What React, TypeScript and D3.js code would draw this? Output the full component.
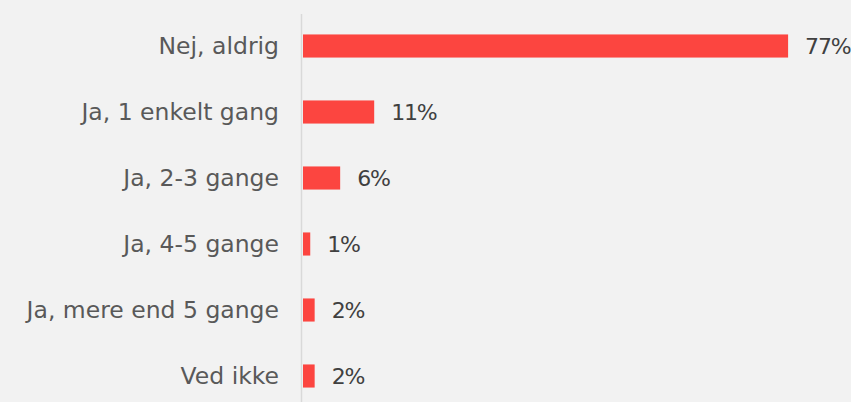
import React, { useEffect, useRef } from "react";
import * as d3 from "d3";

const categories = [
  "Nej, aldrig",
  "Ja, 1 enkelt gang",
  "Ja, 2-3 gange",
  "Ja, 4-5 gange",
  "Ja, mere end 5 gange",
  "Ved ikke",
];
const values = [77, 11.3, 5.9, 1.15, 1.85, 1.85];

const W = 851;
const H = 402;

export default function App() {
  const ref = useRef<SVGSVGElement>(null);
  useEffect(() => {
    document.body.style.margin = "0";
    const svg = d3.select(ref.current);
    svg.selectAll("*").remove();
    const x0 = 303;
    const x = d3.scaleLinear().domain([0, 100]).range([x0, x0 + 630]);
    const y = d3
      .scaleBand<string>()
      .domain(categories)
      .range([13, 409])
      .paddingInner(0.65)
      .paddingOuter(0.325);

    svg.append("rect").attr("width", W).attr("height", H).attr("fill", "#f2f2f2");

    const font = "'DejaVu Sans', sans-serif";

    svg
      .append("g")
      .selectAll("rect")
      .data(categories)
      .join("rect")
      .attr("x", x(0))
      .attr("y", (d) => y(d)!)
      .attr("width", (d, i) => x(values[i]) - x(0))
      .attr("height", y.bandwidth())
      .attr("fill", "#fc4540");

    svg
      .append("line")
      .attr("x1", 301.5)
      .attr("x2", 301.5)
      .attr("y1", 14)
      .attr("y2", H)
      .attr("stroke", "#d9d9d9")
      .attr("stroke-width", 1.5);

    svg
      .append("g")
      .selectAll("text")
      .data(categories)
      .join("text")
      .attr("x", 279)
      .attr("y", (d) => y(d)! + y.bandwidth() / 2)
      .attr("dy", "0.36em")
      .attr("text-anchor", "end")
      .attr("font-family", font)
      .attr("font-size", 23.5)
      .attr("fill", "#595959")
      .text((d) => d);

    svg
      .append("g")
      .selectAll("text")
      .data(categories)
      .join("text")
      .attr("x", (d, i) => x(values[i]) + 17)
      .attr("y", (d) => y(d)! + y.bandwidth() / 2)
      .attr("dy", "0.36em")
      .attr("font-family", font)
      .attr("font-size", 22)
      .attr("letter-spacing", -1.2)
      .attr("fill", "#404040")
      .text((d, i) => `${Math.round(values[i])}%`);
  }, []);
  return (
    <svg
      ref={ref}
      width={W}
      height={H}
      style={{ display: "block", position: "absolute", left: 0, top: 0 }}
    />
  );
}
